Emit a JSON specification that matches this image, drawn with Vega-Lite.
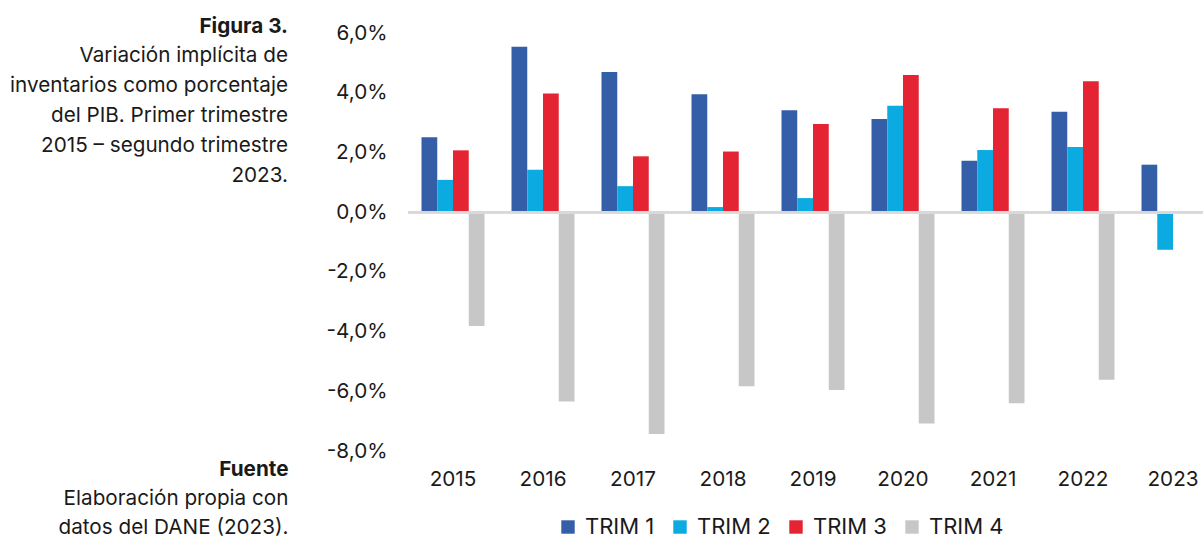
{
  "$schema": "https://vega.github.io/schema/vega-lite/v6.json",
  "autosize": {"type": "none"},
  "padding": {"left": 408, "top": 33, "right": 0, "bottom": 86},
  "width": 795,
  "height": 418,
  "title": {
    "text": "Figura 3.",
    "subtitle": ["Variación implícita de", "inventarios como porcentaje", "del PIB. Primer trimestre", "2015 – segundo trimestre", "2023."],
    "anchor": "start",
    "align": "right",
    "orient": "top",
    "frame": "group",
    "dx": -120,
    "dy": 165,
    "offset": 0,
    "font": "Inter",
    "fontSize": 20.7,
    "fontWeight": "bold",
    "color": "#1a1a1a",
    "subtitleFont": "Inter",
    "subtitleFontSize": 20.7,
    "subtitleFontWeight": "normal",
    "subtitleColor": "#1a1a1a",
    "subtitleLineHeight": 30,
    "subtitlePadding": 9
  },
  "data": {
    "values": [
      {"year": "2015", "trim": "TRIM 1", "value": 2.51},
      {"year": "2015", "trim": "TRIM 2", "value": 1.08},
      {"year": "2015", "trim": "TRIM 3", "value": 2.07},
      {"year": "2015", "trim": "TRIM 4", "value": -3.81},
      {"year": "2016", "trim": "TRIM 1", "value": 5.54},
      {"year": "2016", "trim": "TRIM 2", "value": 1.42},
      {"year": "2016", "trim": "TRIM 3", "value": 3.97},
      {"year": "2016", "trim": "TRIM 4", "value": -6.34},
      {"year": "2017", "trim": "TRIM 1", "value": 4.69},
      {"year": "2017", "trim": "TRIM 2", "value": 0.87},
      {"year": "2017", "trim": "TRIM 3", "value": 1.87},
      {"year": "2017", "trim": "TRIM 4", "value": -7.43},
      {"year": "2018", "trim": "TRIM 1", "value": 3.95},
      {"year": "2018", "trim": "TRIM 2", "value": 0.17},
      {"year": "2018", "trim": "TRIM 3", "value": 2.03},
      {"year": "2018", "trim": "TRIM 4", "value": -5.83},
      {"year": "2019", "trim": "TRIM 1", "value": 3.41},
      {"year": "2019", "trim": "TRIM 2", "value": 0.47},
      {"year": "2019", "trim": "TRIM 3", "value": 2.95},
      {"year": "2019", "trim": "TRIM 4", "value": -5.96},
      {"year": "2020", "trim": "TRIM 1", "value": 3.12},
      {"year": "2020", "trim": "TRIM 2", "value": 3.56},
      {"year": "2020", "trim": "TRIM 3", "value": 4.59},
      {"year": "2020", "trim": "TRIM 4", "value": -7.08},
      {"year": "2021", "trim": "TRIM 1", "value": 1.72},
      {"year": "2021", "trim": "TRIM 2", "value": 2.08},
      {"year": "2021", "trim": "TRIM 3", "value": 3.48},
      {"year": "2021", "trim": "TRIM 4", "value": -6.40},
      {"year": "2022", "trim": "TRIM 1", "value": 3.36},
      {"year": "2022", "trim": "TRIM 2", "value": 2.18},
      {"year": "2022", "trim": "TRIM 3", "value": 4.38},
      {"year": "2022", "trim": "TRIM 4", "value": -5.61},
      {"year": "2023", "trim": "TRIM 1", "value": 1.59},
      {"year": "2023", "trim": "TRIM 2", "value": -1.26}
    ]
  },
  "layer": [
    {
      "mark": {"type": "bar"},
      "encoding": {
        "x": {
          "field": "year",
          "type": "nominal",
          "scale": {"range": [0, 810], "paddingInner": 0.3, "paddingOuter": 0.15},
          "axis": {
            "orient": "bottom",
            "domain": false,
            "ticks": false,
            "labelAngle": 0,
            "labelPadding": 18,
            "labelFontSize": 20.7,
            "labelFont": "Inter",
            "labelColor": "#1a1a1a",
            "title": ["Elaboración propia con", "datos del DANE (2023)."],
            "titleFont": "Inter",
            "titleFontSize": 20.7,
            "titleFontWeight": "normal",
            "titleColor": "#1a1a1a",
            "titleAngle": 0,
            "titleAlign": "right",
            "titleBaseline": "alphabetic",
            "titleLineHeight": 29.5,
            "titleX": -120,
            "titleY": 53
          }
        },
        "xOffset": {"field": "trim", "type": "nominal", "sort": ["TRIM 1", "TRIM 2", "TRIM 3", "TRIM 4"]},
        "y": {
          "field": "value",
          "type": "quantitative",
          "scale": {"domain": [-8, 6], "nice": false, "zero": false},
          "axis": {
            "values": [-8, -6, -4, -2, 0, 2, 4, 6],
            "format": ".1f",
            "labelExpr": "datum.label + '%'",
            "grid": false,
            "domain": false,
            "ticks": false,
            "labelPadding": 21,
            "labelFontSize": 20.7,
            "labelFont": "Inter",
            "labelColor": "#1a1a1a",
            "title": "Fuente",
            "titleFont": "Inter",
            "titleFontSize": 20.7,
            "titleFontWeight": "bold",
            "titleColor": "#1a1a1a",
            "titleAngle": 0,
            "titleAlign": "right",
            "titleBaseline": "alphabetic",
            "titleX": -120,
            "titleY": 442
          }
        },
        "color": {
          "field": "trim",
          "type": "nominal",
          "scale": {"domain": ["TRIM 1", "TRIM 2", "TRIM 3", "TRIM 4"], "range": ["#355EA8", "#0BABE1", "#E42333", "#C7C7C7"]},
          "legend": {
            "orient": "none",
            "direction": "horizontal",
            "legendX": 149,
            "legendY": 483,
            "title": null,
            "symbolType": "square",
            "symbolSize": 180,
            "symbolStrokeWidth": 0,
            "labelFont": "Inter",
            "labelFontSize": 22,
            "labelColor": "#1a1a1a",
            "labelOffset": 6,
            "columnPadding": 14,
            "padding": 0
          }
        }
      }
    },
    {
      "mark": {"type": "rule", "color": "#D9D9D9", "strokeWidth": 2},
      "encoding": {"y": {"datum": 0}}
    }
  ],
  "config": {
    "view": {"stroke": null},
    "font": "Inter",
    "locale": {"number": {"decimal": ",", "thousands": ".", "grouping": [3], "currency": ["", " €"], "minus": "-"}}
  }
}
